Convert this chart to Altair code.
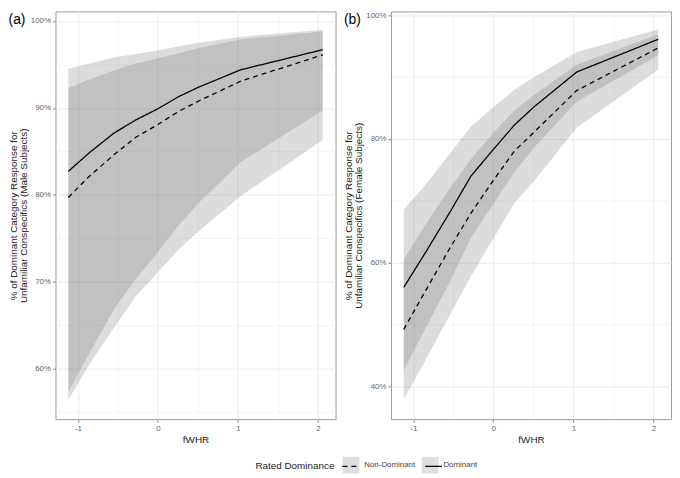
import altair as alt
import pandas as pd

# fWHR grid of the fitted effects
fwhr = [-1.12, -0.85, -0.55, -0.28, 0.0, 0.26, 0.51, 1.04, 2.06]

# Panel (a): male subjects, % dominant category response
male_dom_fit = [82.7, 84.9, 87.1, 88.6, 89.9, 91.3, 92.4, 94.4, 96.7]
male_dom_lo = [57.3, 61.9, 66.8, 70.3, 73.4, 76.5, 79.1, 83.8, 89.7]
male_dom_hi = [94.5, 95.1, 95.8, 96.2, 96.6, 97.1, 97.5, 98.2, 99.0]
male_nd_fit = [79.7, 82.2, 84.6, 86.6, 88.1, 89.6, 90.8, 93.1, 96.1]
male_nd_lo = [56.4, 60.6, 64.7, 68.3, 71.1, 73.7, 75.8, 79.9, 86.3]
male_nd_hi = [92.3, 93.3, 94.3, 95.1, 95.7, 96.3, 96.9, 97.9, 98.8]

# Panel (b): female subjects
female_dom_fit = [56.0, 61.6, 68.0, 74.0, 78.3, 82.2, 85.2, 90.8, 96.1]
female_dom_lo = [42.6, 49.3, 56.8, 64.0, 69.5, 74.6, 78.6, 86.0, 93.5]
female_dom_hi = [68.6, 72.6, 77.5, 82.0, 85.1, 87.9, 90.0, 94.0, 97.7]
female_nd_fit = [49.2, 55.4, 62.2, 68.0, 73.3, 78.0, 81.1, 87.8, 94.7]
female_nd_lo = [37.9, 44.2, 51.4, 57.8, 63.9, 69.6, 73.2, 81.8, 91.2]
female_nd_hi = [60.5, 66.1, 71.9, 76.7, 81.0, 84.6, 87.1, 92.0, 96.9]

groups = ["Non-Dominant", "Dominant"]
x_ticks = [-1, -0.5, 0, 0.5, 1, 1.5, 2]

FONT = "Liberation Sans"
LEG_X = 202
LEG_Y = 450


def build_df(nd_fit, nd_lo, nd_hi, d_fit, d_lo, d_hi):
    rows = []
    for g, fit, lo, hi in [(groups[0], nd_fit, nd_lo, nd_hi), (groups[1], d_fit, d_lo, d_hi)]:
        for i, xv in enumerate(fwhr):
            rows.append({"fWHR": xv, "fit": fit[i], "lo": lo[i], "hi": hi[i], "Rated Dominance": g})
    return pd.DataFrame(rows)


def cond(test, a, b):
    return {"condition": {"test": test, "value": a}, "value": b}


fill_legend = alt.Legend(
    orient="none", legendX=LEG_X, legendY=LEG_Y, direction="horizontal",
    title="Rated Dominance", titleOrient="left", titleBaseline="middle",
    titleFontSize=10, titleFontWeight="normal", titleColor="#222", titlePadding=7,
    symbolType="square", symbolSize=289, symbolStrokeWidth=0, symbolOpacity=0.22,
    labelFontSize=8, labelColor="#444", labelOffset=5, columnPadding=6,
)
dash_legend = alt.Legend(
    orient="none", legendX=LEG_X + 87, legendY=LEG_Y, direction="horizontal",
    title=None, labelExpr="''",
    symbolType="stroke", symbolSize=289, symbolStrokeColor="black", symbolStrokeWidth=1.3,
    labelFontSize=8, labelOffset=5, columnPadding=57.6,
)


def make_panel(df, label, ytitle, ydomain, yvals, ystep):
    ytest = f"datum.value % {ystep} === 0"
    xtest = "datum.value % 1 === 0"
    x = alt.X(
        "fWHR:Q",
        scale=alt.Scale(domain=[-1.28, 2.22], nice=False, zero=False),
        axis=alt.Axis(
            values=x_ticks, title="fWHR", labelOverlap=False,
            labelExpr=f"{xtest} ? '' + datum.value : ''",
            gridWidth=cond(xtest, 1, 0.5),
            tickColor=cond(xtest, "#888", "rgba(0,0,0,0)"),
            titlePadding=3,
        ),
    )
    y = alt.Y(
        "lo:Q",
        scale=alt.Scale(domain=ydomain, nice=False, zero=False),
        axis=alt.Axis(
            values=yvals, title=ytitle, labelOverlap=False,
            labelExpr=f"{ytest} ? datum.value + '%' : ''",
            gridWidth=cond(ytest, 1, 0.5),
            tickColor=cond(ytest, "#888", "rgba(0,0,0,0)"),
            titlePadding=2,
        ),
    )
    band = alt.Chart(df).mark_area(opacity=0.24).encode(
        x=x,
        y=y,
        y2="hi:Q",
        fill=alt.Fill(
            "Rated Dominance:N", sort=groups,
            scale=alt.Scale(range=["#6e6e6e", "#6e6e6e"]),
            legend=fill_legend,
        ),
    )
    line = alt.Chart(df).mark_line(color="black", strokeWidth=1.3).encode(
        x="fWHR:Q",
        y="fit:Q",
        strokeDash=alt.StrokeDash(
            "Rated Dominance:N",
            scale=alt.Scale(domain=groups, range=[[5, 4], [1, 0]]),
            legend=dash_legend,
        ),
    )
    return alt.layer(band, line).properties(
        width=283, height=412,
        title=alt.TitleParams(label, anchor="start", frame="bounds", fontSize=14,
                              fontWeight="normal", color="black", offset=-16),
    )


df_a = build_df(male_nd_fit, male_nd_lo, male_nd_hi, male_dom_fit, male_dom_lo, male_dom_hi)
df_b = build_df(female_nd_fit, female_nd_lo, female_nd_hi, female_dom_fit, female_dom_lo, female_dom_hi)

panel_a = make_panel(
    df_a, "(a)",
    ["% of Dominant Category Response for", "Unfamiliar Conspecifics (Male Subjects)"],
    [54.2, 101.1], [55, 60, 65, 70, 75, 80, 85, 90, 95, 100], 10,
)
panel_b = make_panel(
    df_b, "(b)",
    ["% of Dominant Category Response for", "Unfamiliar Conspecifics (Female Subjects)"],
    [34.7, 100.6], [40, 50, 60, 70, 80, 90, 100], 20,
)

chart = (
    alt.hconcat(panel_a, panel_b, spacing=7)
    .properties(padding=0)
    .configure(font=FONT)
    .configure_view(stroke="#9a9a9a", strokeWidth=1)
    .configure_axis(
        domain=False, gridColor="#ebebeb", labelFontSize=8, labelColor="#666",
        labelPadding=2, tickSize=3, titleFontSize=10, titleFontWeight="normal",
        titleColor="#222", titleLineHeight=10,
    )
    .configure_title(font=FONT)
)

chart.save("out.html", embed_options={"renderer": "svg", "actions": False})
